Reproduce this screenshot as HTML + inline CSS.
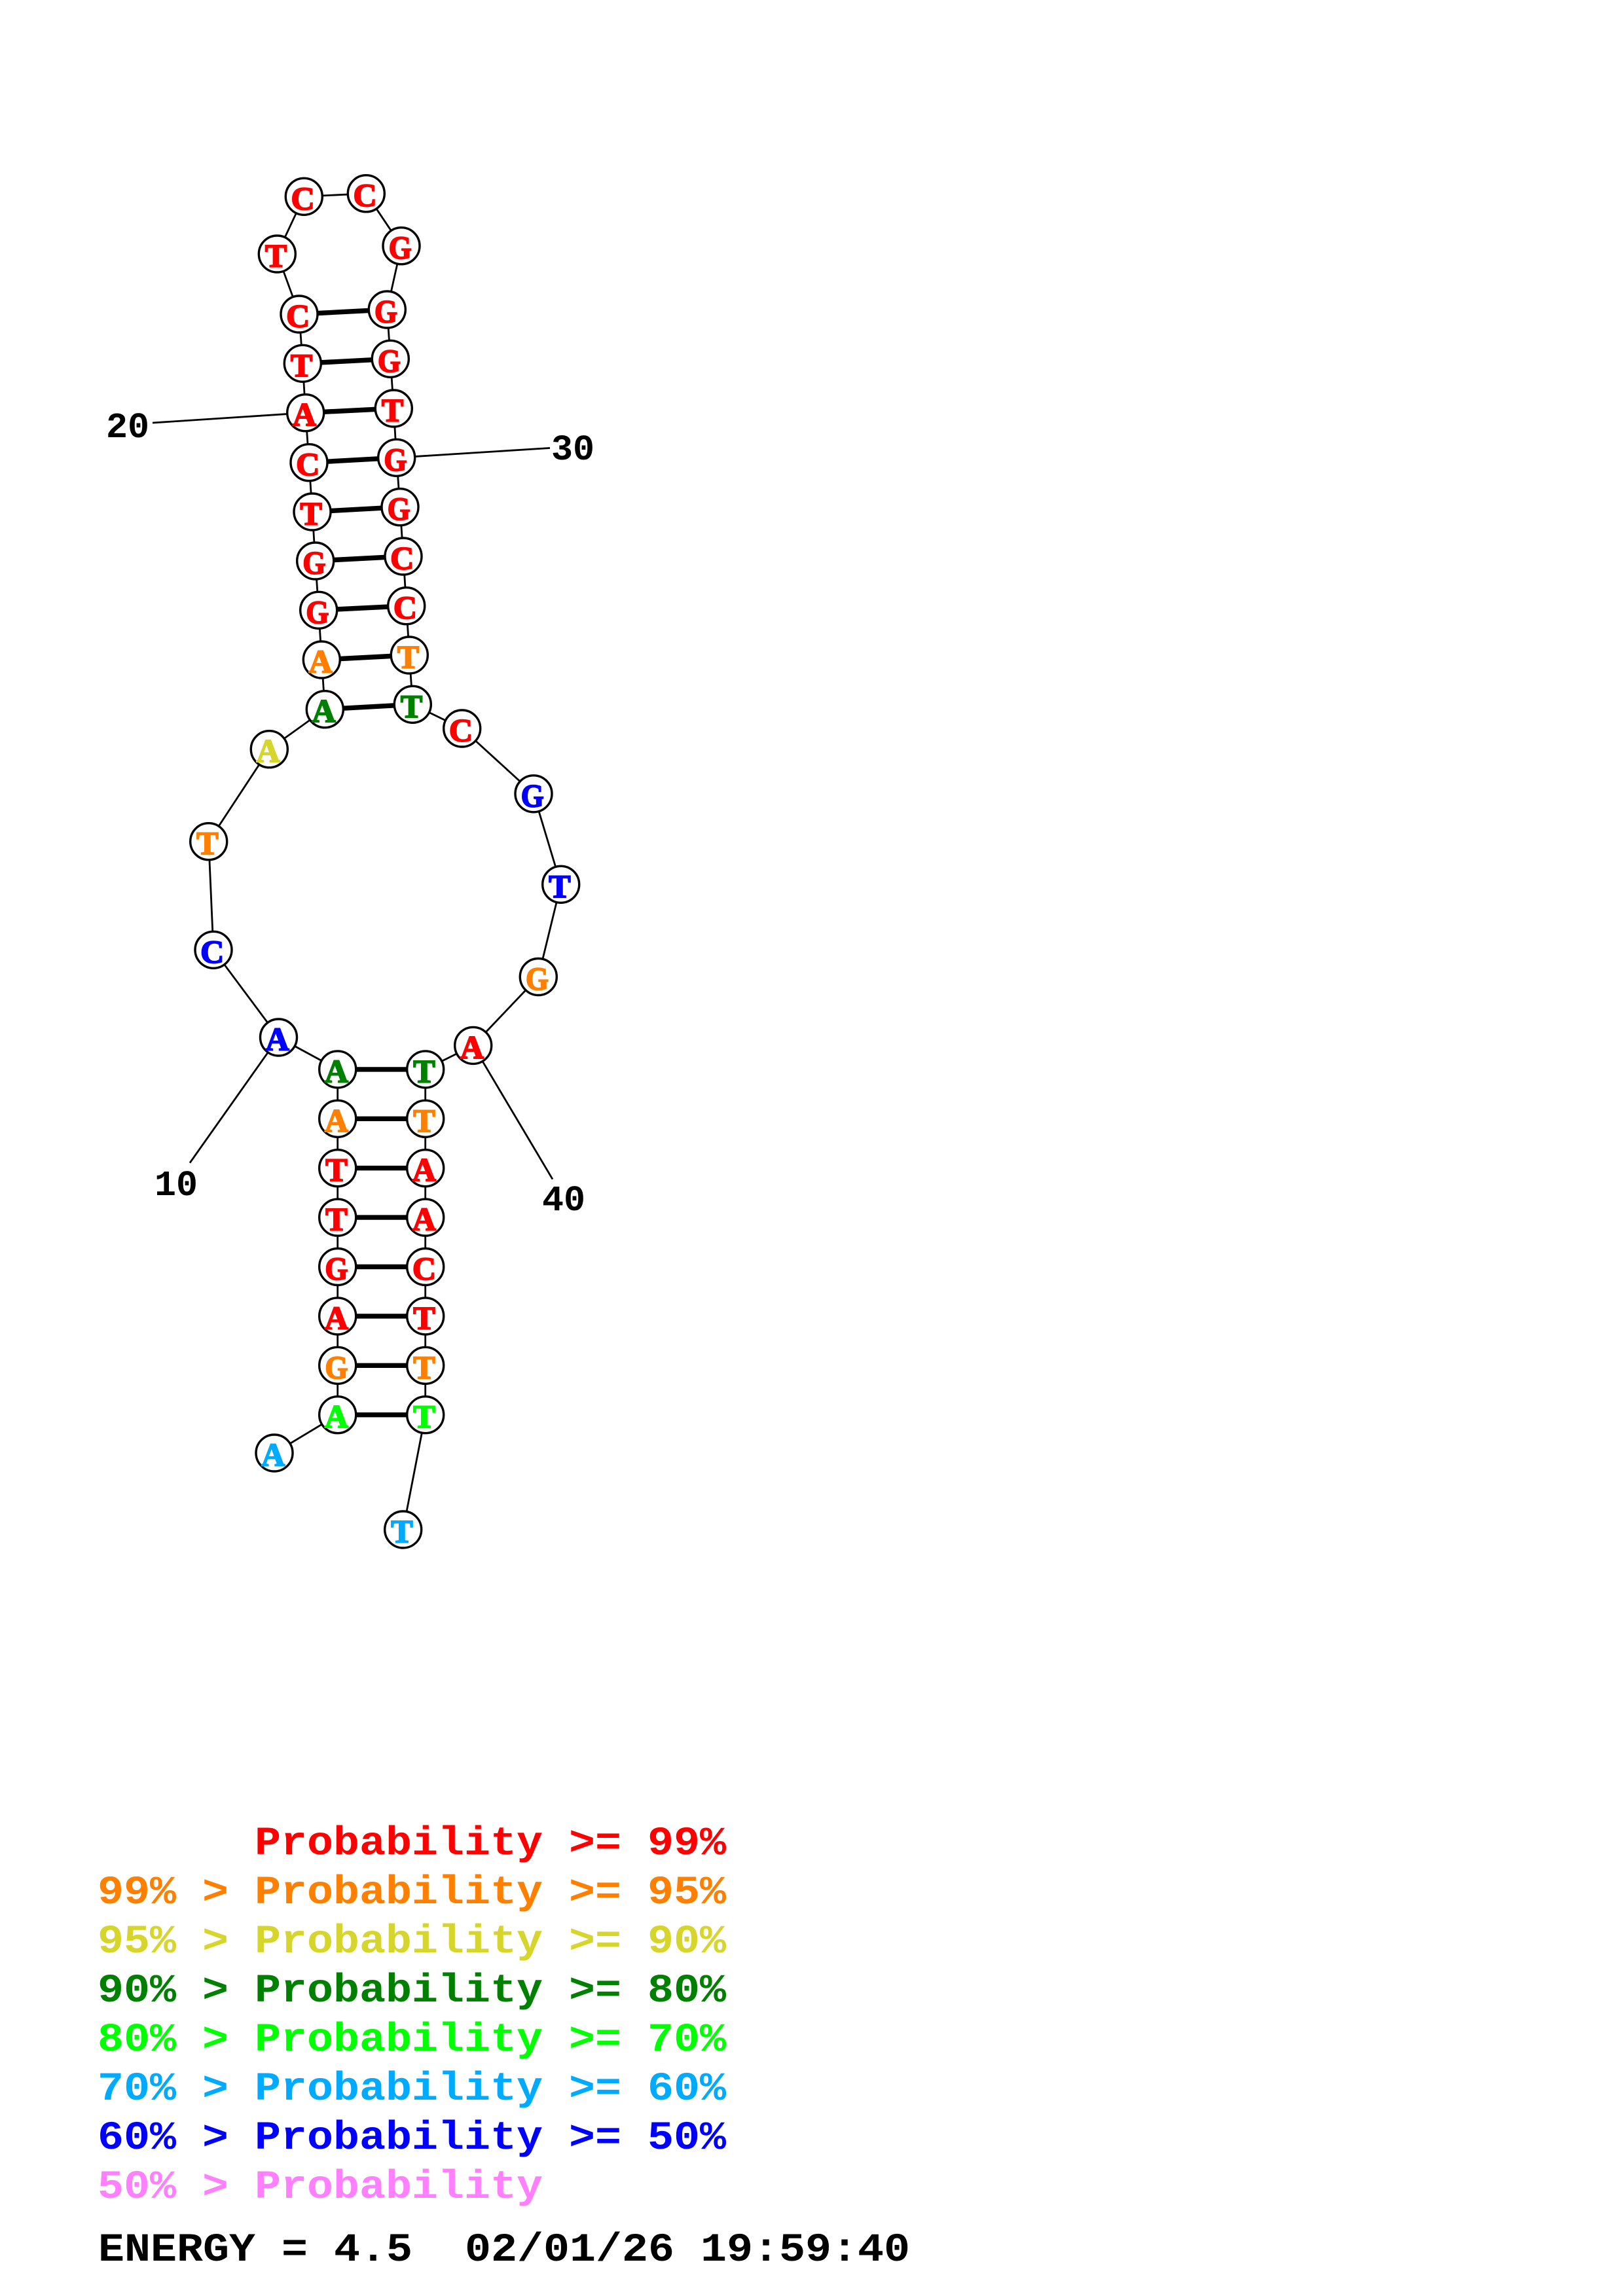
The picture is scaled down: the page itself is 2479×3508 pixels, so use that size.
<!DOCTYPE html>
<html><head><meta charset="utf-8"><style>
html,body{margin:0;padding:0;background:#fff}
svg{display:block}
.b{fill:none;stroke:#000;stroke-width:2.8}
.p{stroke:#000;stroke-width:7.4}
circle{fill:#fff;stroke:#000;stroke-width:3.4}
.n text{font:bold 50px "Liberation Serif",serif;text-anchor:middle;stroke-width:2}
.l text{font:bold 55px "Liberation Mono",monospace;fill:#000}
.g text{font:bold 66.67px "Liberation Mono",monospace;white-space:pre}
.r{fill:#f00;stroke:#f00}.o{fill:#ff8000;stroke:#ff8000}.y{fill:#d5d52b;stroke:#d5d52b}.d{fill:#008000;stroke:#008000}.e{fill:#0f0;stroke:#0f0}.c{fill:#00aaff;stroke:#00aaff}.u{fill:#00f;stroke:#00f}
</style></head><body>
<svg xmlns="http://www.w3.org/2000/svg" width="2479" height="3508" viewBox="0 0 2479 3508">
<rect width="2479" height="3508" fill="#fff"/>
<polyline class="b" points="419,2220 515.7,2161.7 515.7,2086.3 515.7,2010.9 515.7,1935.5 515.7,1860.1 515.7,1784.7 515.7,1709.3 515.7,1633.9 425.5,1585 326,1451.3 318.7,1285.7 411.3,1144.7 496.3,1083.7 491.3,1008 486.7,932.3 481.7,857 477,782 472,706.7 466.7,630.7 462.3,555.3 457,480 423.3,388 464.3,300.3 559.3,295.7 613,375.7 591.3,473 596.3,548.3 601.3,624 605.7,699.3 611,774.7 616,850 620.7,925.7 625.3,1001 630.3,1076.3 705.7,1113 815,1212.8 856.7,1351.3 822.3,1492.5 722.7,1597.4 649.7,1633.9 649.7,1709.3 649.7,1784.7 649.7,1860.1 649.7,1935.5 649.7,2010.9 649.7,2086.3 649.7,2161.7 615.7,2337"/>
<line class="b" x1="425.5" y1="1585" x2="290" y2="1776.7"/>
<line class="b" x1="466.7" y1="630.7" x2="233" y2="646"/>
<line class="b" x1="605.7" y1="699.3" x2="840" y2="684.5"/>
<line class="b" x1="722.7" y1="1597.4" x2="844" y2="1801.7"/>
<line class="p" x1="457" y1="480" x2="591.3" y2="473"/>
<line class="p" x1="462.3" y1="555.3" x2="596.3" y2="548.3"/>
<line class="p" x1="466.7" y1="630.7" x2="601.3" y2="624"/>
<line class="p" x1="472" y1="706.7" x2="605.7" y2="699.3"/>
<line class="p" x1="477" y1="782" x2="611" y2="774.7"/>
<line class="p" x1="481.7" y1="857" x2="616" y2="850"/>
<line class="p" x1="486.7" y1="932.3" x2="620.7" y2="925.7"/>
<line class="p" x1="491.3" y1="1008" x2="625.3" y2="1001"/>
<line class="p" x1="496.3" y1="1083.7" x2="630.3" y2="1076.3"/>
<line class="p" x1="515.7" y1="1633.9" x2="649.7" y2="1633.9"/>
<line class="p" x1="515.7" y1="1709.3" x2="649.7" y2="1709.3"/>
<line class="p" x1="515.7" y1="1784.7" x2="649.7" y2="1784.7"/>
<line class="p" x1="515.7" y1="1860.1" x2="649.7" y2="1860.1"/>
<line class="p" x1="515.7" y1="1935.5" x2="649.7" y2="1935.5"/>
<line class="p" x1="515.7" y1="2010.9" x2="649.7" y2="2010.9"/>
<line class="p" x1="515.7" y1="2086.3" x2="649.7" y2="2086.3"/>
<line class="p" x1="515.7" y1="2161.7" x2="649.7" y2="2161.7"/>
<g class="n">
<circle cx="419" cy="2220" r="28"/><text class="c" x="417.2" y="2239.5">A</text>
<circle cx="515.7" cy="2161.7" r="28"/><text class="e" x="513.9" y="2181.2">A</text>
<circle cx="515.7" cy="2086.3" r="28"/><text class="o" x="513.9" y="2105.8" textLength="35" lengthAdjust="spacingAndGlyphs">G</text>
<circle cx="515.7" cy="2010.9" r="28"/><text class="r" x="513.9" y="2030.4">A</text>
<circle cx="515.7" cy="1935.5" r="28"/><text class="r" x="513.9" y="1955" textLength="35" lengthAdjust="spacingAndGlyphs">G</text>
<circle cx="515.7" cy="1860.1" r="28"/><text class="r" x="513.9" y="1879.6">T</text>
<circle cx="515.7" cy="1784.7" r="28"/><text class="r" x="513.9" y="1804.2">T</text>
<circle cx="515.7" cy="1709.3" r="28"/><text class="o" x="513.9" y="1728.8">A</text>
<circle cx="515.7" cy="1633.9" r="28"/><text class="d" x="513.9" y="1653.4">A</text>
<circle cx="425.5" cy="1585" r="28"/><text class="u" x="423.7" y="1604.5">A</text>
<circle cx="326" cy="1451.3" r="28"/><text class="u" x="324.2" y="1470.8">C</text>
<circle cx="318.7" cy="1285.7" r="28"/><text class="o" x="316.9" y="1305.2">T</text>
<circle cx="411.3" cy="1144.7" r="28"/><text class="y" x="409.5" y="1164.2">A</text>
<circle cx="496.3" cy="1083.7" r="28"/><text class="d" x="494.5" y="1103.2">A</text>
<circle cx="491.3" cy="1008" r="28"/><text class="o" x="489.5" y="1027.5">A</text>
<circle cx="486.7" cy="932.3" r="28"/><text class="r" x="484.9" y="951.8" textLength="35" lengthAdjust="spacingAndGlyphs">G</text>
<circle cx="481.7" cy="857" r="28"/><text class="r" x="479.9" y="876.5" textLength="35" lengthAdjust="spacingAndGlyphs">G</text>
<circle cx="477" cy="782" r="28"/><text class="r" x="475.2" y="801.5">T</text>
<circle cx="472" cy="706.7" r="28"/><text class="r" x="470.2" y="726.2">C</text>
<circle cx="466.7" cy="630.7" r="28"/><text class="r" x="464.9" y="650.2">A</text>
<circle cx="462.3" cy="555.3" r="28"/><text class="r" x="460.5" y="574.8">T</text>
<circle cx="457" cy="480" r="28"/><text class="r" x="455.2" y="499.5">C</text>
<circle cx="423.3" cy="388" r="28"/><text class="r" x="421.5" y="407.5">T</text>
<circle cx="464.3" cy="300.3" r="28"/><text class="r" x="462.5" y="319.8">C</text>
<circle cx="559.3" cy="295.7" r="28"/><text class="r" x="557.5" y="315.2">C</text>
<circle cx="613" cy="375.7" r="28"/><text class="r" x="611.2" y="395.2" textLength="35" lengthAdjust="spacingAndGlyphs">G</text>
<circle cx="591.3" cy="473" r="28"/><text class="r" x="589.5" y="492.5" textLength="35" lengthAdjust="spacingAndGlyphs">G</text>
<circle cx="596.3" cy="548.3" r="28"/><text class="r" x="594.5" y="567.8" textLength="35" lengthAdjust="spacingAndGlyphs">G</text>
<circle cx="601.3" cy="624" r="28"/><text class="r" x="599.5" y="643.5">T</text>
<circle cx="605.7" cy="699.3" r="28"/><text class="r" x="603.9" y="718.8" textLength="35" lengthAdjust="spacingAndGlyphs">G</text>
<circle cx="611" cy="774.7" r="28"/><text class="r" x="609.2" y="794.2" textLength="35" lengthAdjust="spacingAndGlyphs">G</text>
<circle cx="616" cy="850" r="28"/><text class="r" x="614.2" y="869.5">C</text>
<circle cx="620.7" cy="925.7" r="28"/><text class="r" x="618.9" y="945.2">C</text>
<circle cx="625.3" cy="1001" r="28"/><text class="o" x="623.5" y="1020.5">T</text>
<circle cx="630.3" cy="1076.3" r="28"/><text class="d" x="628.5" y="1095.8">T</text>
<circle cx="705.7" cy="1113" r="28"/><text class="r" x="703.9" y="1132.5">C</text>
<circle cx="815" cy="1212.8" r="28"/><text class="u" x="813.2" y="1232.3" textLength="35" lengthAdjust="spacingAndGlyphs">G</text>
<circle cx="856.7" cy="1351.3" r="28"/><text class="u" x="854.9" y="1370.8">T</text>
<circle cx="822.3" cy="1492.5" r="28"/><text class="o" x="820.5" y="1512" textLength="35" lengthAdjust="spacingAndGlyphs">G</text>
<circle cx="722.7" cy="1597.4" r="28"/><text class="r" x="720.9" y="1616.9">A</text>
<circle cx="649.7" cy="1633.9" r="28"/><text class="d" x="647.9" y="1653.4">T</text>
<circle cx="649.7" cy="1709.3" r="28"/><text class="o" x="647.9" y="1728.8">T</text>
<circle cx="649.7" cy="1784.7" r="28"/><text class="r" x="647.9" y="1804.2">A</text>
<circle cx="649.7" cy="1860.1" r="28"/><text class="r" x="647.9" y="1879.6">A</text>
<circle cx="649.7" cy="1935.5" r="28"/><text class="r" x="647.9" y="1955">C</text>
<circle cx="649.7" cy="2010.9" r="28"/><text class="r" x="647.9" y="2030.4">T</text>
<circle cx="649.7" cy="2086.3" r="28"/><text class="o" x="647.9" y="2105.8">T</text>
<circle cx="649.7" cy="2161.7" r="28"/><text class="e" x="647.9" y="2181.2">T</text>
<circle cx="615.7" cy="2337" r="28"/><text class="c" x="613.9" y="2356.5">T</text>
</g>
<g class="l">
<text x="236" y="1826">10</text>
<text x="162" y="668">20</text>
<text x="842" y="702">30</text>
<text x="828" y="1849">40</text>
</g>
<g class="g">
<text transform="translate(149,2833) scale(1,.92)" fill="#f00" xml:space="preserve">      Probability &gt;= 99%</text>
<text transform="translate(149,2908) scale(1,.92)" fill="#ff8000" xml:space="preserve">99% &gt; Probability &gt;= 95%</text>
<text transform="translate(149,2983) scale(1,.92)" fill="#d5d52b" xml:space="preserve">95% &gt; Probability &gt;= 90%</text>
<text transform="translate(149,3058) scale(1,.92)" fill="#008000" xml:space="preserve">90% &gt; Probability &gt;= 80%</text>
<text transform="translate(149,3133) scale(1,.92)" fill="#0f0" xml:space="preserve">80% &gt; Probability &gt;= 70%</text>
<text transform="translate(149,3208) scale(1,.92)" fill="#00aaff" xml:space="preserve">70% &gt; Probability &gt;= 60%</text>
<text transform="translate(149,3283) scale(1,.92)" fill="#00f" xml:space="preserve">60% &gt; Probability &gt;= 50%</text>
<text transform="translate(149,3358) scale(1,.92)" fill="#ff80ff" xml:space="preserve">50% &gt; Probability</text>
<text transform="translate(150,3454) scale(1,.92)" fill="#000" xml:space="preserve">ENERGY = 4.5  02/01/26 19:59:40</text>
</g>
</svg>
</body></html>
